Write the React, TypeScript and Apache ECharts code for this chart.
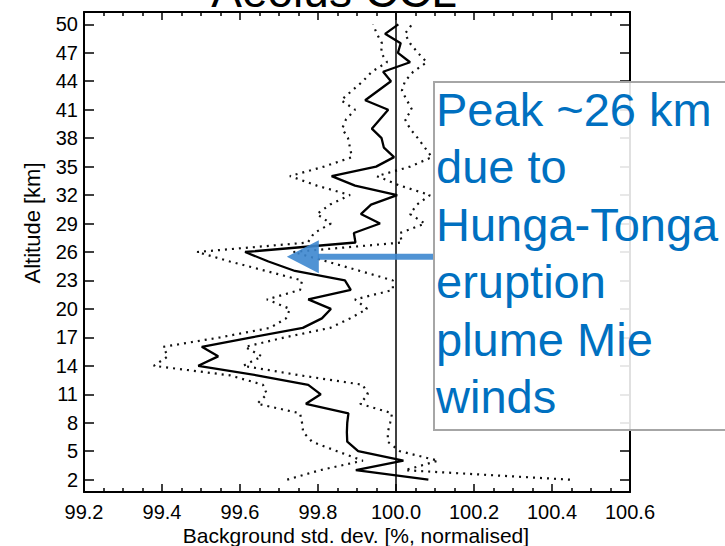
import React, { useEffect, useRef } from "react";
import * as echarts from "echarts";

// Altitude levels [km], bottom to top
const altitudes = [
  2, 3, 4, 5, 6, 7, 8, 9, 10, 11, 12, 13, 14, 15, 16, 17, 18, 19, 20, 21, 22, 23, 24, 25,
  26, 27, 28, 29, 30, 31, 32, 33, 34, 35, 36, 37, 38, 39, 40, 41, 42, 43, 44, 45, 46, 47,
  48, 49, 50,
];

// Normalised background std. dev. [%] per altitude level
const meanDev = [
  100.083, 99.897, 100.019, 99.903, 99.875, 99.874, 99.875, 99.878, 99.769, 99.807,
  99.775, 99.643, 99.493, 99.544, 99.502, 99.63, 99.761, 99.81, 99.833, 99.775, 99.884,
  99.869, 99.741, 99.673, 99.613, 99.896, 99.892, 99.959, 99.91, 99.936, 100.003, 99.895,
  99.835, 99.949, 99.995, 99.969, 99.963, 99.938, 99.959, 99.98, 99.921, 99.954, 99.987,
  99.967, 100.036, 100.005, 100.012, 99.972, 100.006,
];

const lowerDev = [
  99.721, 99.805, 99.915, 99.849, 99.785, 99.762, 99.759, 99.754, 99.644, 99.669, 99.659,
  99.574, 99.379, 99.415, 99.403, 99.549, 99.677, 99.718, 99.728, 99.669, 99.754, 99.759,
  99.667, 99.574, 99.49, 99.774, 99.79, 99.833, 99.797, 99.831, 99.882, 99.797, 99.728,
  99.815, 99.887, 99.882, 99.877, 99.862, 99.872, 99.895, 99.859, 99.887, 99.915, 99.938,
  99.977, 99.962, 99.964, 99.951, 99.941,
];

const upperDev = [
  100.446, 100.023, 100.108, 100.01, 99.979, 99.979, 99.985, 99.99, 99.908, 99.928, 99.915,
  99.754, 99.608, 99.656, 99.613, 99.715, 99.831, 99.882, 99.926, 99.895, 99.992, 99.992,
  99.908, 99.823, 99.736, 100.015, 100.01, 100.074, 100.036, 100.054, 100.087, 100.01,
  99.951, 100.036, 100.092, 100.074, 100.056, 100.036, 100.023, 100.041, 100.028, 100.015,
  100.023, 100.044, 100.079, 100.056, 100.036, 100.023, 100.041,
];

// Altitude tick labels
const altitudeTicks = [2, 5, 8, 11, 14, 17, 20, 23, 26, 29, 32, 35, 38, 41, 44, 47, 50];

const titleText = "Aeolus CCL";
const xAxisTitle = "Background std. dev. [%, normalised]";
const yAxisTitle = "Altitude [km]";
const noteLines = ["Peak ~26 km", "due to", "Hunga-Tonga", "eruption", "plume Mie", "winds"];

// Arrow annotation: from the note box towards the 26 km peak
const arrowTip = [99.72, 25.5];
const arrowTail = [100.097, 25.5];

const FONT = "'Liberation Sans', Arial, Helvetica, sans-serif";
const BLUE_TEXT = "#0070C0";
const BLUE_ARROW = "#3D87CF";

function pairs(values: number[]) {
  return values.map((v, i) => [v, altitudes[i]]);
}

export default function App() {
  const ref = useRef<HTMLDivElement | null>(null);

  useEffect(() => {
    if (!ref.current) return;
    const chart = echarts.init(ref.current, undefined, { renderer: "svg" });

    const xAxisBase = {
      type: "value" as const,
      min: 99.2,
      max: 100.6,
      interval: 0.2,
      splitLine: { show: false },
      axisLine: { show: true, onZero: false, lineStyle: { color: "#000", width: 2 } },
      axisTick: { show: true, inside: true, length: 8, lineStyle: { color: "#000", width: 1.5 } },
      minorTick: { show: true, splitNumber: 4, length: 4, lineStyle: { color: "#000", width: 1.5 } },
    };

    const yAxisBase = {
      type: "value" as const,
      min: 0.7,
      max: 51.3,
      splitLine: { show: false },
      axisLine: { show: true, onZero: false, lineStyle: { color: "#000", width: 2 } },
      axisTick: {
        show: true,
        inside: true,
        length: 10,
        customValues: altitudeTicks,
        lineStyle: { color: "#000", width: 1.5 },
      },
    };

    const dotted = {
      color: "#111",
      width: 2.2,
      type: [2, 5] as number[],
    };

    chart.setOption({
      animation: false,
      grid: { left: 84, right: 95, top: 12, bottom: 54, containLabel: false },
      xAxis: [
        {
          ...xAxisBase,
          position: "bottom",
          axisLabel: {
            show: true,
            margin: 10,
            fontSize: 20,
            fontFamily: FONT,
            color: "#000",
            formatter: (v: number) => v.toFixed(1),
          },
        },
        { ...xAxisBase, position: "top", axisLabel: { show: false } },
      ],
      yAxis: [
        {
          ...yAxisBase,
          position: "left",
          axisLabel: {
            show: true,
            customValues: altitudeTicks,
            margin: 6,
            fontSize: 20,
            fontFamily: FONT,
            color: "#000",
          },
        },
        { ...yAxisBase, position: "right", axisLabel: { show: false } },
      ],
      series: [
        {
          type: "line",
          name: "lower",
          data: pairs(lowerDev),
          showSymbol: false,
          lineStyle: dotted,
          z: 2,
        },
        {
          type: "line",
          name: "upper",
          data: pairs(upperDev),
          showSymbol: false,
          lineStyle: dotted,
          z: 2,
        },
        {
          type: "line",
          name: "mean",
          data: pairs(meanDev),
          showSymbol: false,
          lineStyle: { color: "#000", width: 2.3 },
          z: 3,
          markLine: {
            silent: true,
            symbol: "none",
            label: { show: false },
            lineStyle: { color: "#000", width: 1.5, type: "solid" },
            data: [{ xAxis: 100.0 }],
          },
        },
      ],
    });

    const tip = chart.convertToPixel({ xAxisIndex: 0, yAxisIndex: 0 }, arrowTip) as number[];
    const tail = chart.convertToPixel({ xAxisIndex: 0, yAxisIndex: 0 }, arrowTail) as number[];
    const headLen = 32;
    const headHalf = 16.5;
    const shaftHalf = 3;

    const boxX = 434;
    const boxY = 82;
    const fontSize = 47;
    const lineGap = 57.5;
    const firstBaseline = 125;

    chart.setOption({
      graphic: [
        {
          type: "text",
          z: 100,
          style: {
            text: titleText,
            x: 334,
            y: -9,
            textAlign: "center",
            textVerticalAlign: "middle",
            font: `46px ${FONT}`,
            fill: "#000",
          },
        },
        {
          type: "text",
          z: 100,
          style: {
            text: xAxisTitle,
            x: 356,
            y: 535,
            textAlign: "center",
            textVerticalAlign: "middle",
            font: `21px ${FONT}`,
            fill: "#000",
          },
        },
        {
          type: "text",
          z: 100,
          x: 32,
          y: 223,
          rotation: Math.PI / 2,
          style: {
            text: yAxisTitle,
            x: 0,
            y: 0,
            textAlign: "center",
            textVerticalAlign: "middle",
            font: `22px ${FONT}`,
            fill: "#000",
          },
        },
        {
          type: "rect",
          z: 100,
          shape: { x: tip[0] + headLen - 1, y: tip[1] - shaftHalf, width: tail[0] - tip[0] - headLen + 1, height: shaftHalf * 2 },
          style: { fill: BLUE_ARROW, opacity: 0.9 },
        },
        {
          type: "polygon",
          z: 100,
          shape: {
            points: [
              [tip[0], tip[1]],
              [tip[0] + headLen, tip[1] - headHalf],
              [tip[0] + headLen, tip[1] + headHalf],
            ],
          },
          style: { fill: BLUE_ARROW, opacity: 0.9 },
        },
        {
          type: "rect",
          z: 101,
          shape: { x: boxX, y: boxY, width: 320, height: 348 },
          style: { fill: "rgba(255,255,255,0.88)", stroke: "#A6A6A6", lineWidth: 2 },
        },
        ...noteLines.map((line, i) => ({
          type: "text",
          z: 102,
          style: {
            text: line,
            x: boxX + 2,
            y: firstBaseline + i * lineGap - 0.34 * fontSize,
            textAlign: "left",
            textVerticalAlign: "middle",
            font: `${fontSize}px ${FONT}`,
            fill: BLUE_TEXT,
          },
        })),
      ],
    });

    return () => {
      chart.dispose();
    };
  }, []);

  return (
    <div
      ref={ref}
      style={{ position: "fixed", left: 0, top: 0, width: 725, height: 546, background: "#fff" }}
    />
  );
}
